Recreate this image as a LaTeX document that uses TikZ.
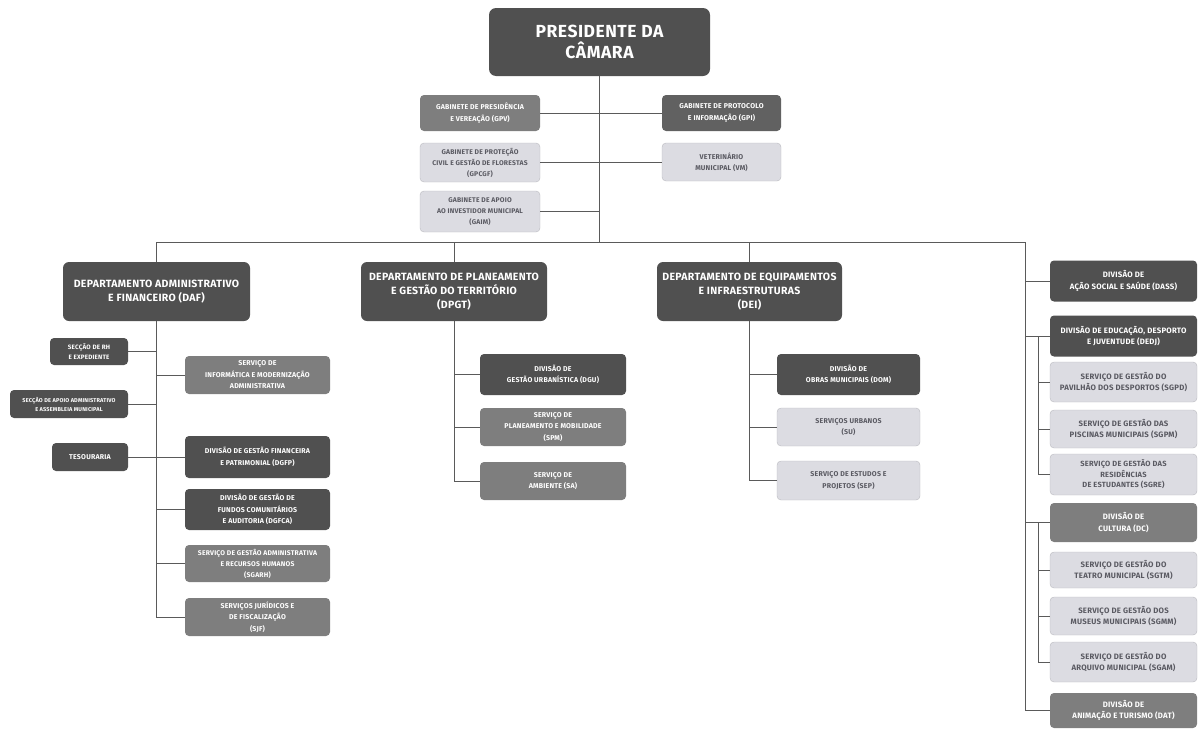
\documentclass[tikz,border=0pt]{standalone}
\usepackage{fontspec}
\setmainfont{Fira Sans}
\newfontfamily\boxfont[LetterSpace=3]{Fira Sans}
\definecolor{cdark}{HTML}{505050}
\definecolor{cmid}{HTML}{7E7E7E}
\definecolor{clight}{HTML}{DCDCE2}
\definecolor{clighttxt}{HTML}{5A5A62}
\definecolor{cline}{HTML}{5A5A5A}
\tikzset{
  fs/.style 2 args={font=\boxfont\fontsize{#1}{#2}\selectfont\bfseries},
  box/.style={rounded corners=4pt, align=center, inner sep=1pt, fs={7}{11.5}},
  dark/.style={box, fill=cdark, text=white},
  mid/.style={box, fill=cmid, text=white},
  light/.style={box, fill=clight, draw=clight!85!black, line width=0.4pt, text=clighttxt},
  dept/.style={dark, fs={10.5}{14}, rounded corners=6pt},
  rc/.style={fs={7.8}{11.5}},
  sz/.style 2 args={minimum width=#1, minimum height=#2},
  conn/.style={draw=cline, line width=1pt},
}
\begin{document}
\begin{tikzpicture}[x=1pt,y=-1pt]
\useasboundingbox (0,0) rectangle (1201,731);
% top
\node[dark, sz={221}{68}, rounded corners=7pt, fs={17.5}{21}] (P) at (599.5,42) {PRESIDENTE DA\\CÂMARA};
\node[mid, sz={120}{36}] (GPV) at (480,113) {GABINETE DE PRESIDÊNCIA\\E VEREAÇÃO (GPV)};
\node[dark, sz={119}{36}, fill=cdark!90!white] (GPI) at (721.5,113) {GABINETE DE PROTOCOLO\\E INFORMAÇÃO (GPI)};
\node[light, sz={120}{39}, fs={6.8}{11}] (GPC) at (480,162.5) {GABINETE DE PROTEÇÃO\\CIVIL E GESTÃO DE FLORESTAS\\(GPCGF)};
\node[light, sz={119}{38}] (VM) at (721.5,162) {VETERINÁRIO\\MUNICIPAL (VM)};
\node[light, sz={120}{41}, fs={6.8}{11}] (GAI) at (480,211.5) {GABINETE DE APOIO\\AO INVESTIDOR MUNICIPAL\\(GAIM)};
% departments
\node[dept, sz={187}{59}] (DAF) at (156.5,291.5) {DEPARTAMENTO ADMINISTRATIVO\\E FINANCEIRO (DAF)};
\node[dept, sz={186}{59}] (DPGT) at (454,291.5) {DEPARTAMENTO DE PLANEAMENTO\\E GESTÃO DO TERRITÓRIO\\(DPGT)};
\node[dept, sz={185}{59}] (DEI) at (749.5,291.5) {DEPARTAMENTO DE EQUIPAMENTOS\\E INFRAESTRUTURAS\\(DEI)};
% DAF children
\node[dark, sz={78}{27}, fs={6.3}{9.5}] (SRH) at (89,351.5) {SECÇÃO DE RH\\E EXPEDIENTE};
\node[dark, sz={118}{28}, fs={5.6}{9}] (SAA) at (69,404) {SECÇÃO DE APOIO ADMINISTRATIVO\\E ASSEMBLEIA MUNICIPAL};
\node[dark, sz={76}{28}] (TES) at (90,457) {TESOURARIA};
\node[mid, sz={145}{38}] (SIMA) at (257.5,375) {SERVIÇO DE\\INFORMÁTICA E MODERNIZAÇÃO\\ADMINISTRATIVA};
\node[dark, sz={145}{42}] (DGFP) at (257.5,457) {DIVISÃO DE GESTÃO FINANCEIRA\\E PATRIMONIAL (DGFP)};
\node[dark, sz={145}{41}] (DGFCA) at (257.5,509.5) {DIVISÃO DE GESTÃO DE\\FUNDOS COMUNITÁRIOS\\E AUDITORIA (DGFCA)};
\node[mid, sz={145}{37}, fs={6.8}{11}] (SGARH) at (257.5,563.5) {SERVIÇO DE GESTÃO ADMINISTRATIVA\\E RECURSOS HUMANOS\\(SGARH)};
\node[mid, sz={145}{38}] (SJF) at (257.5,617) {SERVIÇOS JURÍDICOS E\\DE FISCALIZAÇÃO\\(SJF)};
% DPGT children
\node[dark, sz={146}{41}] (DGU) at (553,374.5) {DIVISÃO DE\\GESTÃO URBANÍSTICA (DGU)};
\node[mid, sz={146}{38}] (SPM) at (553,427) {SERVIÇO DE\\PLANEAMENTO E MOBILIDADE\\(SPM)};
\node[mid, sz={146}{38}] (SA) at (553,481) {SERVIÇO DE\\AMBIENTE (SA)};
% DEI children
\node[dark, sz={143}{41}] (DOM) at (848.5,374.5) {DIVISÃO DE\\OBRAS MUNICIPAIS (DOM)};
\node[light, sz={143}{38}] (SU) at (848.5,427) {SERVIÇOS URBANOS\\(SU)};
\node[light, sz={143}{39}] (SEP) at (848.5,480.5) {SERVIÇO DE ESTUDOS E\\PROJETOS (SEP)};
% right column
\node[dark, sz={147}{41}, rc] (DASS) at (1123.5,281) {DIVISÃO DE\\AÇÃO SOCIAL E SAÚDE (DASS)};
\node[dark, sz={147}{41}, rc] (DEDJ) at (1123.5,336) {DIVISÃO DE EDUCAÇÃO, DESPORTO\\E JUVENTUDE (DEDJ)};
\node[light, sz={147}{40}, rc] (SGPD) at (1123.5,382) {SERVIÇO DE GESTÃO DO\\PAVILHÃO DOS DESPORTOS (SGPD)};
\node[light, sz={147}{38}, rc] (SGPM) at (1123.5,429) {SERVIÇO DE GESTÃO DAS\\PISCINAS MUNICIPAIS (SGPM)};
\node[light, sz={147}{41}, fs={7.5}{10.5}] (SGRE) at (1123.5,474.5) {SERVIÇO DE GESTÃO DAS\\RESIDÊNCIAS\\DE ESTUDANTES (SGRE)};
\node[mid, sz={147}{39}, rc] (DC) at (1123.5,522.5) {DIVISÃO DE\\CULTURA (DC)};
\node[light, sz={147}{36}, rc] (SGTM) at (1123.5,570) {SERVIÇO DE GESTÃO DO\\TEATRO MUNICIPAL (SGTM)};
\node[light, sz={147}{38}, rc] (SGMM) at (1123.5,616) {SERVIÇO DE GESTÃO DOS\\MUSEUS MUNICIPAIS (SGMM)};
\node[light, sz={147}{40}, rc] (SGAM) at (1123.5,662) {SERVIÇO DE GESTÃO DO\\ARQUIVO MUNICIPAL (SGAM)};
\node[mid, sz={147}{35}, rc] (DAT) at (1123.5,710.5) {DIVISÃO DE\\ANIMAÇÃO E TURISMO (DAT)};
% bus coordinates
\coordinate (busL) at (157,242);
\coordinate (busR) at (1025,242);
\coordinate (sx) at (1038,0);
% connectors
\begin{scope}[conn]
\draw (P.south) -- (P.south |- busL);
\draw (GPV.east) -- (GPV.east -| P.south);
\draw (GPC.east) -- (GPC.east -| P.south);
\draw (GAI.east) -- (GAI.east -| P.south);
\draw (GPI.west) -- (GPI.west -| P.south);
\draw (VM.west) -- (VM.west -| P.south);
\draw (busL) -- (busR);
\draw (DAF.north) -- (DAF.north |- busL);
\draw (DPGT.north) -- (DPGT.north |- busL);
\draw (DEI.north) -- (DEI.north |- busL);
% DAF
\draw (DAF.south) -- (DAF.south |- SJF.west) -- (SJF.west);
\foreach \n in {SIMA,DGFP,DGFCA,SGARH} \draw (\n.west) -- (\n.west -| DAF.south);
\foreach \n in {SRH,SAA,TES} \draw (\n.east) -- (\n.east -| DAF.south);
% DPGT
\draw (DPGT.south) -- (DPGT.south |- SA.west) -- (SA.west);
\foreach \n in {DGU,SPM} \draw (\n.west) -- (\n.west -| DPGT.south);
% DEI
\draw (DEI.south) -- (DEI.south |- SEP.west) -- (SEP.west);
\foreach \n in {DOM,SU} \draw (\n.west) -- (\n.west -| DEI.south);
% right column
\draw (busR) -- (busR |- DAT.west) -- (DAT.west);
\foreach \n in {DASS,DEDJ,DC} \draw (\n.west) -- (\n.west -| busR);
\draw (DEDJ.west -| sx) -- (SGRE.west -| sx) -- (SGRE.west);
\foreach \n in {SGPD,SGPM} \draw (\n.west) -- (\n.west -| sx);
\draw (DC.west -| sx) -- (SGAM.west -| sx) -- (SGAM.west);
\foreach \n in {SGTM,SGMM} \draw (\n.west) -- (\n.west -| sx);
\end{scope}
\end{tikzpicture}
\end{document}
